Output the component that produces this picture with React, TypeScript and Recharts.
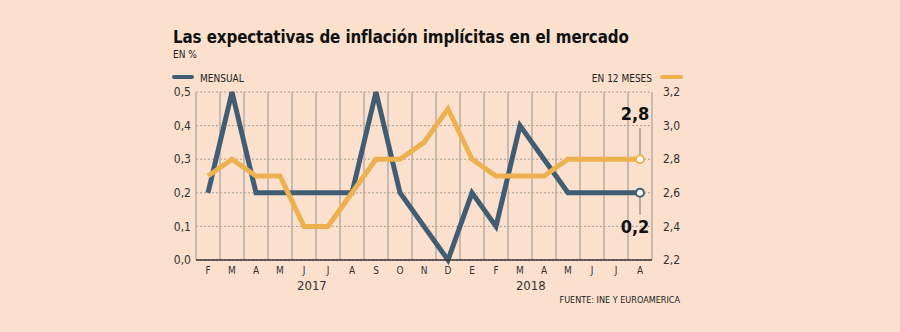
import React from 'react';
import { LineChart, Line, XAxis, YAxis, CartesianGrid, ReferenceLine } from 'recharts';

const months = ['F', 'M', 'A', 'M', 'J', 'J', 'A', 'S', 'O', 'N', 'D', 'E', 'F', 'M', 'A', 'M', 'J', 'J', 'A'];
const mensual = [0.2, 0.5, 0.2, 0.2, 0.2, 0.2, 0.2, 0.5, 0.2, 0.1, 0.0, 0.2, 0.1, 0.4, 0.3, 0.2, 0.2, 0.2, 0.2];
const doceMeses = [2.7, 2.8, 2.7, 2.7, 2.4, 2.4, 2.6, 2.8, 2.8, 2.9, 3.1, 2.8, 2.7, 2.7, 2.7, 2.8, 2.8, 2.8, 2.8];
const leftTicks = [0, 0.1, 0.2, 0.3, 0.4, 0.5];
const rightTicks = [2.2, 2.4, 2.6, 2.8, 3.0, 3.2];
const yearPos = [4.33, 13.45];
const yearLabels = ['2017', '2018'];

const BLUE = '#415d74';
const ORANGE = '#eeb14f';
const BG = '#fae0cd';
const FONT = '"DejaVu Sans Condensed", "DejaVu Sans", sans-serif';

const data = months.map((m, i) => ({ i, m, mensual: mensual[i], doce: doceMeses[i] }));
const last = months.length - 1;
const bounds = [...months.map((_, i) => i - 0.5), last + 0.5];

const fmt = (v: number) => v.toFixed(1).replace('.', ',');

const EndDot = (props: any) => {
  const { cx, cy, index, color, up, value } = props;
  if (index !== last) return null;
  return (
    <g>
      {up ? (
        <line x1={cx} x2={cx} y1={cy - 4} y2={cy - 31} stroke="#777" strokeWidth={1} />
      ) : (
        <line x1={cx} x2={cx} y1={cy + 4} y2={cy + 22} stroke="#777" strokeWidth={1} />
      )}
      <circle cx={cx} cy={cy} r={4} fill="#fff" stroke={color} strokeWidth={2} />
      <text
        x={cx - 5}
        y={up ? cy - 39 : cy + 40}
        textAnchor="middle"
        fontFamily={FONT}
        fontWeight="bold"
        fontSize={18}
        fill="#111"
      >
        {fmt(value)}
      </text>
    </g>
  );
};

export default function App() {
  return (
    <div style={{ position: 'absolute', left: 0, top: 0, width: 900, height: 332, background: BG, overflow: 'hidden' }}>
      <LineChart width={900} height={332} data={data} margin={{ top: 92, right: 208, bottom: 32, left: 156 }}>
        <CartesianGrid vertical={false} yAxisId="left" stroke="#a89e96" strokeDasharray="2 2" />
        {bounds.map((b) => (
          <ReferenceLine key={b} x={b} yAxisId="left" stroke="#b9aea4" strokeWidth={1.5} />
        ))}
        <XAxis
          dataKey="i"
          type="number"
          domain={[-0.5, last + 0.5]}
          ticks={data.map((d) => d.i)}
          tickFormatter={(v: number) => months[v]}
          height={20}
          tickLine={false}
          tickSize={5}
          tickMargin={2}
          axisLine={{ stroke: '#333', strokeWidth: 1.5 }}
          tick={{ fill: '#333', fontSize: 10, fontFamily: FONT }}
          interval={0}
        />
        <XAxis
          xAxisId="year"
          dataKey="i"
          type="number"
          domain={[-0.5, last + 0.5]}
          ticks={yearPos}
          tickFormatter={(v: number) => yearLabels[yearPos.indexOf(v)]}
          height={20}
          tickLine={false}
          axisLine={false}
          tickSize={0}
          tickMargin={1}
          tick={{ fill: '#333', fontSize: 13, fontFamily: FONT }}
          interval={0}
        />
        <YAxis
          yAxisId="left"
          domain={[0, 0.5]}
          ticks={leftTicks}
          tickFormatter={fmt}
          width={40}
          axisLine={false}
          tickLine={false}
          tickSize={3}
          tickMargin={2}
          tick={{ fill: '#333', fontSize: 12, fontFamily: FONT }}
          interval={0}
        />
        <YAxis
          yAxisId="right"
          orientation="right"
          domain={[2.2, 3.2]}
          ticks={rightTicks}
          tickFormatter={fmt}
          width={40}
          axisLine={false}
          tickLine={false}
          tickSize={6}
          tickMargin={5}
          tick={{ fill: '#333', fontSize: 12, fontFamily: FONT, textAnchor: 'start' }}
          interval={0}
        />
        <Line
          yAxisId="left"
          type="linear"
          dataKey="mensual"
          stroke={BLUE}
          strokeWidth={5}
          dot={(p: any) => <EndDot key={'m' + p.index} {...p} color={BLUE} up={false} value={mensual[p.index]} />}
          activeDot={false}
          isAnimationActive={false}
        />
        <Line
          yAxisId="right"
          type="linear"
          dataKey="doce"
          stroke={ORANGE}
          strokeWidth={5}
          dot={(p: any) => <EndDot key={'d' + p.index} {...p} color={ORANGE} up={true} value={doceMeses[p.index]} />}
          activeDot={false}
          isAnimationActive={false}
        />
      </LineChart>
      <svg width={900} height={332} style={{ position: 'absolute', left: 0, top: 0, pointerEvents: 'none' }}>
        <text x={173} y={43} fontFamily={FONT} fontWeight="bold" fontSize={16.8} letterSpacing={-0.1} fill="#111">
          Las expectativas de inflación implícitas en el mercado
        </text>
        <text x={173} y={58} fontFamily={FONT} fontSize={10} fill="#222">EN %</text>
        <line x1={174} x2={192} y1={77} y2={77} stroke={BLUE} strokeWidth={4} strokeLinecap="round" />
        <text x={200} y={81.5} fontFamily={FONT} fontSize={10} fill="#222">MENSUAL</text>
        <text x={652} y={81.5} textAnchor="end" fontFamily={FONT} fontSize={10} fill="#222">EN 12 MESES</text>
        <line x1={662} x2={681} y1={77} y2={77} stroke={ORANGE} strokeWidth={4} strokeLinecap="round" />
        <text x={680} y={303} textAnchor="end" fontFamily={FONT} fontSize={9} fill="#222">FUENTE: INE Y EUROAMERICA</text>
      </svg>
    </div>
  );
}
